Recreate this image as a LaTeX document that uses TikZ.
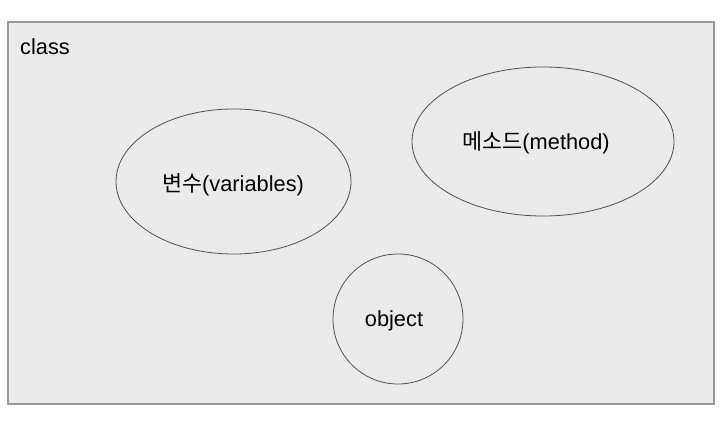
\documentclass[tikz,border=0pt]{standalone}
\usepackage{fontspec}
\setmainfont{Liberation Sans}
\newfontfamily\krfont{Noto Sans CJK KR}
\usepackage{tikz}
\definecolor{boxgray}{HTML}{EBEBEB}
\definecolor{edgegray}{HTML}{9A9A9A}
\definecolor{linegray}{HTML}{505050}

\begin{document}
\begin{tikzpicture}[x=1pt,y=-1pt,
        lbl/.style={font=\fontsize{21.8}{26}\selectfont, inner sep=0pt}]
        \useasboundingbox (0,0) rectangle (726,422);
        \fill[boxgray] (8,22) rectangle (714,404);
        \draw[edgegray, line width=1.3pt] (8,22) rectangle (714,404);

        \draw[linegray, line width=0.8pt] (233.5,181.5) ellipse (117.5 and 72.5);
        \draw[linegray, line width=0.8pt] (543,141.5) ellipse (131 and 74.5);
        \draw[linegray, line width=0.8pt] (398,319) circle (65);

        \node[lbl, anchor=base west] (cls) at (20,55) {class};
        \node[lbl] (var) at (233,185) {{\krfont 변수}(variables)};
        \node[lbl] (mth) at (536,143) {{\krfont 메소드}(method)};
        \node[lbl] (obj) at (394,321) {object};
    \end{tikzpicture}
\end{document}
